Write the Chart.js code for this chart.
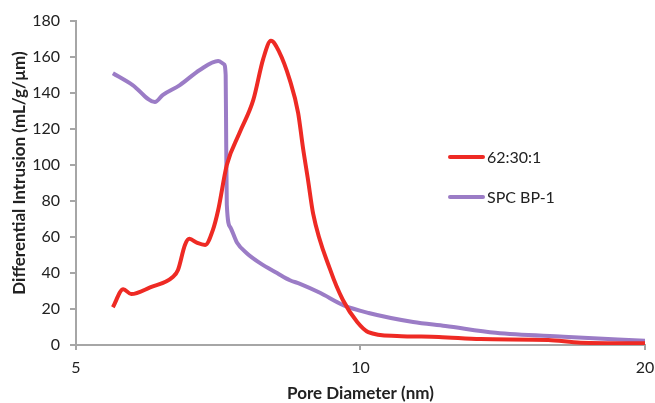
<!DOCTYPE html>
<html>
<head>
<meta charset="utf-8">
<script src="https://cdn.jsdelivr.net/npm/chart.js@4/dist/chart.umd.min.js"></script>
<style>
  html, body { margin: 0; padding: 0; background: #fff; }
  #wrap { width: 655px; height: 403px; }
</style>
</head>
<body>
<div id="wrap"><canvas id="grafico-poros" width="655" height="403"></canvas></div>
<script>
// pore diameter (nm) / differential intrusion (mL/g/µm)
const redX = [5.47, 5.61, 5.72, 5.99, 6.33, 6.41, 6.52, 6.59, 6.72, 6.85, 6.98, 7.07, 7.22, 7.45, 7.70, 7.89, 8.04, 8.2, 8.42, 8.59, 8.69, 8.80, 8.91, 9.29, 9.58, 9.92, 10.19, 10.93, 12.1, 13.4, 15.8, 17.1, 20];
const redY = [21, 31, 28.3, 32, 37.8, 41.7, 55.6, 59, 56.7, 55.6, 64, 75, 100, 118, 136, 159, 169, 163, 147, 129, 110, 91.7, 73, 41.7, 25, 12.8, 7.2, 5, 4.5, 3.3, 2.8, 1.3, 1];

const purpleX = [5.47, 5.74, 6.06, 6.18, 6.44, 6.76, 7.07, 7.17, 7.2, 7.21, 7.22, 7.28, 7.40, 7.58, 7.83, 8.16, 8.42, 8.63, 9.06, 9.6, 10.2, 11.37, 12.3, 13.9, 16.4, 20];
const purpleY = [151, 144.4, 135, 139, 144.4, 152.8, 157.8, 156, 150, 110, 78, 65.5, 57, 51, 45.5, 40, 36, 34, 29, 22, 17.8, 12.8, 10.6, 6.8, 4.6, 2.3];

const seriesLabels = ['62:30:1', 'SPC BP-1'];
const xTicks = [5, 10, 20];

const fonte = 'Lato, "Open Sans", sans-serif';
const cinza = '#a6a6a6';

function pontos(xs, ys) {
    return xs.map((x, i) => ({ x: x, y: ys[i] }));
}

// legend drawn inside the plot, on the right
const legendaInterna = {
    id: 'legendaInterna',
    afterDatasetsDraw(chart) {
        const ctx = chart.ctx;
        ctx.save();
        ctx.font = '16px ' + fonte;
        ctx.textBaseline = 'middle';
        ctx.fillStyle = '#222';
        chart.data.datasets.forEach((ds, i) => {
            const y = 157 + i * 40;
            ctx.strokeStyle = ds.borderColor;
            ctx.lineWidth = 4;
            ctx.lineCap = 'round';
            ctx.beginPath();
            ctx.moveTo(450, y);
            ctx.lineTo(483, y);
            ctx.stroke();
            ctx.fillText(ds.label, 487, y + 1);
        });
        ctx.restore();
    }
};

// rotated y-axis title
const tituloY = {
    id: 'tituloY',
    afterDraw(chart) {
        const ctx = chart.ctx;
        ctx.save();
        ctx.translate(20, 173);
        ctx.rotate(-Math.PI / 2);
        ctx.font = 'bold 17px ' + fonte;
        ctx.fillStyle = '#222';
        ctx.textAlign = 'center';
        ctx.textBaseline = 'middle';
        ctx.fillText('Differential Intrusion (mL/g/µm)', 0, 0);
        ctx.restore();
    }
};

const ctx = document.getElementById('grafico-poros').getContext('2d');
new Chart(ctx, {
    type: 'line',
    data: {
        datasets: [{
            label: seriesLabels[0],
            data: pontos(redX, redY),
            borderColor: '#ee2a24',
            borderWidth: 4,
            pointRadius: 0,
            cubicInterpolationMode: 'monotone'
        }, {
            label: seriesLabels[1],
            data: pontos(purpleX, purpleY),
            borderColor: '#9b7cc6',
            borderWidth: 4,
            pointRadius: 0,
            cubicInterpolationMode: 'monotone'
        }]
    },
    plugins: [legendaInterna, tituloY],
    options: {
        responsive: false,
        animation: false,
        layout: { padding: { top: 21, right: 10, left: 0, bottom: 0 } },
        plugins: {
            legend: { display: false },
            tooltip: { enabled: false }
        },
        scales: {
            x: {
                type: 'logarithmic',
                min: 5,
                max: 20,
                afterBuildTicks: scale => { scale.ticks = xTicks.map(v => ({ value: v })); },
                afterFit: scale => {
                    scale.height = 58;
                    scale.paddingLeft = 0;
                    scale.paddingRight = 0;
                },
                border: { color: cinza, width: 2 },
                grid: { drawOnChartArea: false, drawTicks: true, tickLength: 5, color: cinza, lineWidth: 2 },
                ticks: {
                    padding: 8,
                    color: '#222',
                    font: { family: fonte, size: 16 },
                    maxRotation: 0,
                    autoSkip: false,
                    callback: v => String(v)
                },
                title: {
                    display: true,
                    text: 'Pore Diameter (nm)',
                    color: '#222',
                    font: { family: fonte, size: 17, weight: 'bold' },
                    padding: { top: 0, bottom: -1 }
                }
            },
            y: {
                min: 0,
                max: 180,
                afterFit: scale => { scale.width = 76; },
                border: { color: cinza, width: 2 },
                grid: { drawOnChartArea: false, drawTicks: true, tickLength: 6, color: cinza, lineWidth: 2 },
                ticks: {
                    stepSize: 20,
                    padding: 10,
                    color: '#222',
                    font: { family: fonte, size: 16 }
                }
            }
        }
    }
});
</script>
</body>
</html>
